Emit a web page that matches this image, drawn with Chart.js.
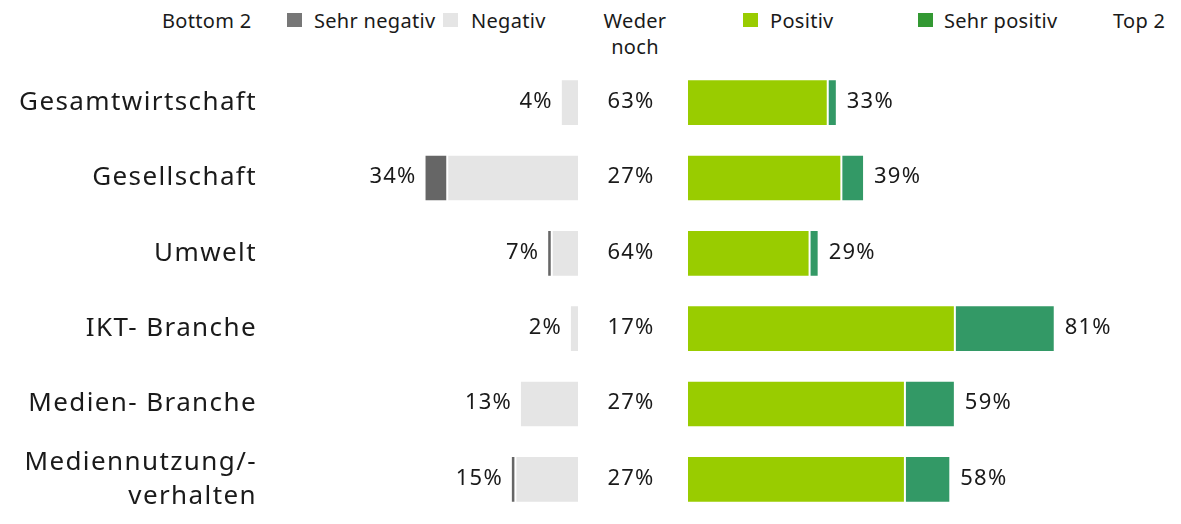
<!DOCTYPE html>
<html lang="de">
<head>
<meta charset="utf-8">
<title>Bewertung – Bottom 2 / Top 2</title>
<script src="https://cdn.jsdelivr.net/npm/chart.js@4.4.1/dist/chart.umd.min.js"></script>
<style>
  html, body { margin: 0; padding: 0; background: #fff; }
  body {
    width: 1181px; height: 524px; position: relative; overflow: hidden;
    font-family: 'Noto Sans', sans-serif; color: #1a1a1a;
  }
  #left-wrap  { position: absolute; left: 0;     top: 0; width: 580px; height: 524px; }
  #right-wrap { position: absolute; left: 580px; top: 0; width: 601px; height: 524px; }
  .hd { position: absolute; top: 8px; font-size: 20px; line-height: 26px; white-space: nowrap; letter-spacing: 0.3px; }
  .sw { position: absolute; top: 13px; width: 15px; height: 14px; }
</style>
</head>
<body>

<!-- Kopfzeile / Legende -->
<div class="hd" style="left:162px">Bottom 2</div>
<div class="sw" style="left:287px; background:#777777"></div>
<div class="hd" style="left:314px">Sehr negativ</div>
<div class="sw" style="left:443px; background:#e5e5e5"></div>
<div class="hd" style="left:471px">Negativ</div>
<div class="hd" style="left:590px; width:90px; text-align:center">Weder<br>noch</div>
<div class="sw" style="left:743px; background:#99cc00"></div>
<div class="hd" style="left:770px">Positiv</div>
<div class="sw" style="left:918px; background:#339933"></div>
<div class="hd" style="left:944px">Sehr positiv</div>
<div class="hd" style="left:1113px">Top 2</div>

<div id="left-wrap"><canvas id="chart-neg" width="580" height="524"></canvas></div>
<div id="right-wrap"><canvas id="chart-pos" width="601" height="524"></canvas></div>

<script>
  /* ── Daten ─────────────────────────────────────────────── */
  const categories = [
    'Gesamtwirtschaft',
    'Gesellschaft',
    'Umwelt',
    'IKT- Branche',
    'Medien- Branche',
    ['Mediennutzung/-', 'verhalten']
  ];
  const sehrNegativ = [0, 5, 1, 0, 0, 1];
  const negativ     = [4, 29, 6, 2, 13, 14];
  const wederNoch   = [63, 27, 64, 17, 27, 27];
  const positiv     = [31, 34, 27, 59, 48, 48];
  const sehrPositiv = [2, 5, 2, 22, 11, 10];

  const FONT = '"Noto Sans", sans-serif';
  const TEXT = '#1a1a1a';

  /* shared bar look */
  const barStyle = {
    borderColor: '#ffffff',
    borderWidth: 1,
    borderSkipped: false,
    categoryPercentage: 0.62,
    barPercentage: 1
  };

  /* wider tracking like the original typeface */
  const tracking = {
    id: 'tracking',
    beforeDraw(chart) { chart.ctx.letterSpacing = '1.4px'; },
    afterDraw(chart) { chart.ctx.letterSpacing = '0px'; }
  };

  /* ── Summen links (Bottom 2) ─────────────────────────── */
  const leftTotals = {
    id: 'leftTotals',
    afterDatasetsDraw(chart) {
      const { ctx } = chart;
      const outer = chart.getDatasetMeta(1).data;
      ctx.save();
      ctx.font = '22px ' + FONT;
      ctx.letterSpacing = '1.2px';
      ctx.fillStyle = TEXT;
      ctx.textAlign = 'right';
      ctx.textBaseline = 'middle';
      outer.forEach((bar, i) => {
        ctx.fillText((negativ[i] + sehrNegativ[i]) + '%', bar.x - 8, bar.y - 1);
      });
      ctx.restore();
    }
  };

  /* ── Weder noch + Summen rechts (Top 2) ──────────────── */
  const rightTotals = {
    id: 'rightTotals',
    afterDatasetsDraw(chart) {
      const { ctx, chartArea } = chart;
      const outer = chart.getDatasetMeta(1).data;
      ctx.save();
      ctx.font = '22px ' + FONT;
      ctx.letterSpacing = '1.2px';
      ctx.fillStyle = TEXT;
      ctx.textBaseline = 'middle';
      outer.forEach((bar, i) => {
        ctx.textAlign = 'center';
        ctx.fillText(wederNoch[i] + '%', chartArea.left - 56, bar.y - 1);
        ctx.textAlign = 'left';
        ctx.fillText((positiv[i] + sehrPositiv[i]) + '%', bar.x + 10, bar.y - 1);
      });
      ctx.restore();
    }
  };

  /* ── Linke Seite: negativ ────────────────────────────── */
  new Chart(document.getElementById('chart-neg'), {
    type: 'bar',
    data: {
      labels: categories,
      datasets: [
        { label: 'Negativ', data: negativ, backgroundColor: '#e5e5e5', ...barStyle },
        { label: 'Sehr negativ', data: sehrNegativ, backgroundColor: '#666666', ...barStyle }
      ]
    },
    options: {
      indexAxis: 'y',
      responsive: false,
      animation: false,
      layout: { padding: { top: 65, bottom: 7, left: 0, right: 1 } },
      plugins: { legend: { display: false }, tooltip: { enabled: false } },
      scales: {
        x: { stacked: true, reverse: true, min: 0, max: 70, display: false },
        y: {
          stacked: true,
          grid: { display: false, drawTicks: false },
          border: { display: false },
          ticks: {
            color: TEXT,
            padding: 4,
            font: { family: FONT, size: 26, lineHeight: 1.3 }
          },
          afterFit(scale) {
            scale.width = 261;
            scale.paddingTop = 0;
            scale.paddingBottom = 0;
          }
        }
      }
    },
    plugins: [tracking, leftTotals]
  });

  /* ── Rechte Seite: positiv ───────────────────────────── */
  new Chart(document.getElementById('chart-pos'), {
    type: 'bar',
    data: {
      labels: categories,
      datasets: [
        { label: 'Positiv', data: positiv, backgroundColor: '#99cc00', ...barStyle },
        { label: 'Sehr positiv', data: sehrPositiv, backgroundColor: '#339966', ...barStyle }
      ]
    },
    options: {
      indexAxis: 'y',
      responsive: false,
      animation: false,
      layout: { padding: { top: 65, bottom: 7, left: 107, right: 40 } },
      plugins: { legend: { display: false }, tooltip: { enabled: false } },
      scales: {
        x: { stacked: true, min: 0, max: 100, display: false },
        y: { stacked: true, display: false }
      }
    },
    plugins: [rightTotals]
  });
</script>
</body>
</html>
